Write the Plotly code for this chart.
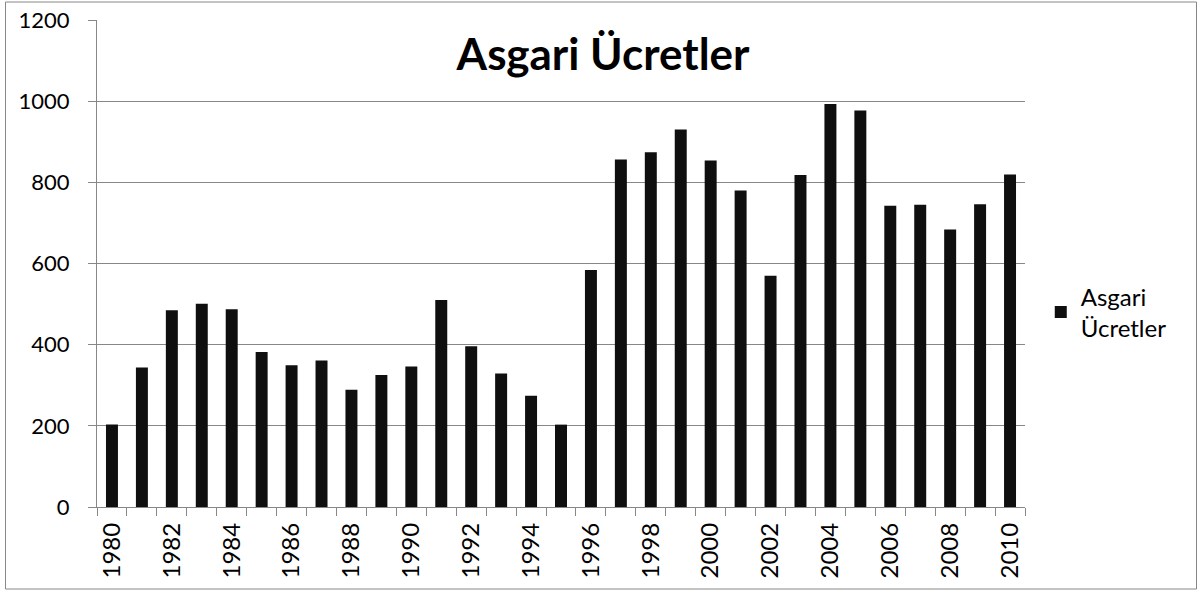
import plotly.graph_objects as go

years = list(range(1980, 2011))
values = [203, 344, 485, 501, 487, 382, 349, 361, 289, 325,
          346, 510, 396, 329, 274, 203, 584, 856, 874, 930,
          854, 780, 570, 818, 993, 977, 742, 745, 684, 746, 819]
label_years = list(range(1980, 2011, 2))
series_name = "Asgari<br>Ücretler"
title_text = "Asgari Ücretler"

FONT = "Lato, 'Open Sans', sans-serif"
GRID = "#878787"

fig = go.Figure()
fig.add_trace(go.Bar(x=years, y=values, width=0.4, name=series_name,
                     marker=dict(color="#0f0f0f", line=dict(width=0)),
                     showlegend=True, xaxis="x", yaxis="y"))

fig.update_layout(
    width=1202, height=591,
    margin=dict(l=97, r=177, t=20, b=84, autoexpand=False),
    paper_bgcolor="white", plot_bgcolor="white",
    font=dict(family=FONT, color="black"),
    title=dict(text="<b>" + title_text + "</b>", x=0.5017, xref="container",
               y=1 - 55 / 591, yref="container", xanchor="center", yanchor="middle",
               font=dict(size=44, family=FONT, color="black")),
    showlegend=True,
    legend=dict(x=1.017, y=0.40, xanchor="left", yanchor="middle",
                font=dict(size=24, family=FONT, color="black"),
                bgcolor="rgba(0,0,0,0)", itemwidth=30),
    xaxis=dict(range=[1979.5, 2010.5], tickmode="array",
               tickvals=[y - 0.5 for y in years] + [2010.5],
               ticktext=[""] * (len(years) + 1),
               ticks="outside", ticklen=8, tickcolor=GRID, tickwidth=1,
               showline=True, linecolor=GRID, linewidth=1, showgrid=False,
               zeroline=False, automargin=False),
    xaxis2=dict(range=[1979.5, 2010.5], overlaying="x", side="bottom",
                tickmode="array", tickvals=label_years,
                ticktext=[str(y) for y in label_years], tickangle=-90,
                ticks="", showline=False, showgrid=False, zeroline=False,
                ticklabelstandoff=10, automargin=False,
                tickfont=dict(size=24, family=FONT, color="black")),
    yaxis=dict(range=[0, 1200], dtick=200, tick0=0,
               showgrid=True, gridcolor=GRID, gridwidth=1,
               showline=True, linecolor=GRID, linewidth=1,
               ticks="outside", ticklen=8, tickcolor=GRID,
               ticklabelstandoff=14, automargin=False,
               zeroline=False, tickfont=dict(size=22, family=FONT, color="black")),
)

# invisible trace to activate xaxis2 labels
fig.add_trace(go.Scatter(x=[1980], y=[0], xaxis="x2", yaxis="y", mode="markers",
                         marker=dict(opacity=0), showlegend=False, hoverinfo="skip"))

# chart border
fig.add_shape(type="rect", xref="paper", yref="paper",
              x0=(5.5 - 97) / 928, x1=(1196.5 - 97) / 928,
              y0=(507 - 589) / 487, y1=(507 - 2) / 487,
              line=dict(color="#888888", width=1), fillcolor="rgba(0,0,0,0)", layer="below")

fig.write_html("out.html", config={"displayModeBar": False},
               post_script="document.body.style.margin='0';document.body.style.padding='0';"
                           "document.body.style.overflow='hidden';")
